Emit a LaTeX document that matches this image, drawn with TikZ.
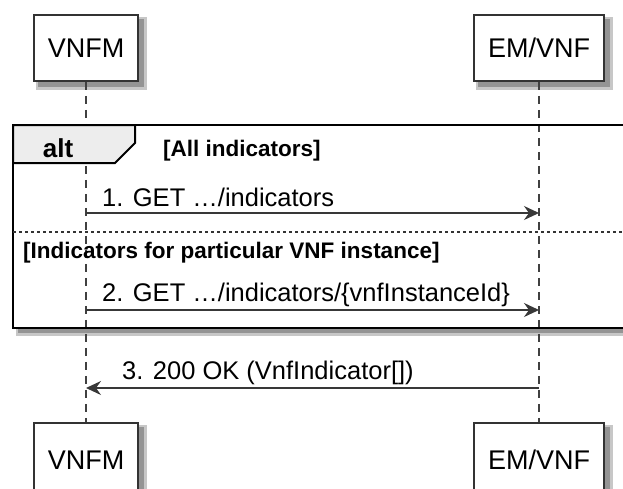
\documentclass[tikz,border=0pt]{standalone}
\usepackage{fontspec}
\setmainfont{Liberation Sans}
\usetikzlibrary{arrows.meta,backgrounds,positioning}

\tikzset{
  part/.style={draw=black!80, line width=1.6pt, fill=white, inner xsep=14pt, minimum height=66pt,
    font=\fontsize{27}{30}\selectfont},
  lifeline/.style={draw=black!75, line width=1.3pt, dash pattern=on 8pt off 6pt},
  msg/.style={draw=black!78, line width=1.5pt, -{Stealth[length=15pt,width=14pt,inset=5pt]}},
  msgtext/.style={anchor=base west, inner sep=0pt, font=\fontsize{25.5}{30}\selectfont},
  guard/.style={anchor=base west, inner sep=0pt, font=\bfseries\fontsize{22.5}{26}\selectfont},
  softshade/.style={fill=black!22},
  hardshade/.style={fill=black!42}
}

\begin{document}
\begin{tikzpicture}[x=1pt,y=-1pt]
\clip (0,0) rectangle (623,488);
\node[part] (vnfmTop) at (86,48) {VNFM};
\node[part] (emTop) at (539,48) {EM/VNF};
\node[part, minimum height=74pt] (vnfmBot) at (86,460) {VNFM};
\node[part, minimum height=74pt] (emBot) at (539,460) {EM/VNF};
\coordinate (fNW) at (13,125);
\coordinate (fSE) at (640,328);
% shadows
\begin{scope}[on background layer]
\foreach \nd in {vnfmTop,emTop,vnfmBot,emBot} {
  \fill[softshade] ([shift={(3,3)}]\nd.north west) rectangle ([shift={(8,8)}]\nd.south east);
  \fill[hardshade] ([shift={(5,5)}]\nd.north west) rectangle ([shift={(5,5)}]\nd.south east);
}
\fill[softshade] ([shift={(3,3)}]fNW) rectangle ([shift={(8,8)}]fSE);
\fill[hardshade] ([shift={(5,5)}]fNW) rectangle ([shift={(5,5)}]fSE);
\fill[white] (fNW) rectangle (fSE);
\end{scope}
\draw[lifeline] (vnfmTop) -- (vnfmBot);
\draw[lifeline] (emTop) -- (emBot);
% alt frame
\draw[line width=2.6pt] (fNW) rectangle (fSE);
\draw[line width=2pt, fill=black!7] (13,125) -- (135,125) -- (135,143) -- (115,163) -- (13,163) -- cycle;
\node[anchor=base, inner sep=0pt, font=\bfseries\fontsize{26}{30}\selectfont] (altlbl) at (58,157) {alt};
\node[guard] (g1) at (163,156) {[All indicators]};
\draw[black!80, line width=1.4pt, dash pattern=on 3pt off 3pt] (13,232) -- (640,232);
\node[guard] (g2) at (23,258) {[Indicators for particular VNF instance]};
% messages
\foreach \n/\y in {1/213,2/310,3/388} {
  \coordinate (v\n) at (vnfmTop |- 0,\y);
  \coordinate (e\n) at (emTop |- 0,\y);
}
\draw[msg] (v1) -- (e1);
\node[msgtext] (t1) at (102,206) {1. GET …/indicators};
\draw[msg] (v2) -- (e2);
\node[msgtext] (t2) at (102,301) {2. GET …/indicators/\{vnfInstanceId\}};
\draw[msg] (e3) -- (v3);
\node[msgtext] (t3) at (122,379) {3. 200 OK (VnfIndicator[])};
\end{tikzpicture}
\end{document}
